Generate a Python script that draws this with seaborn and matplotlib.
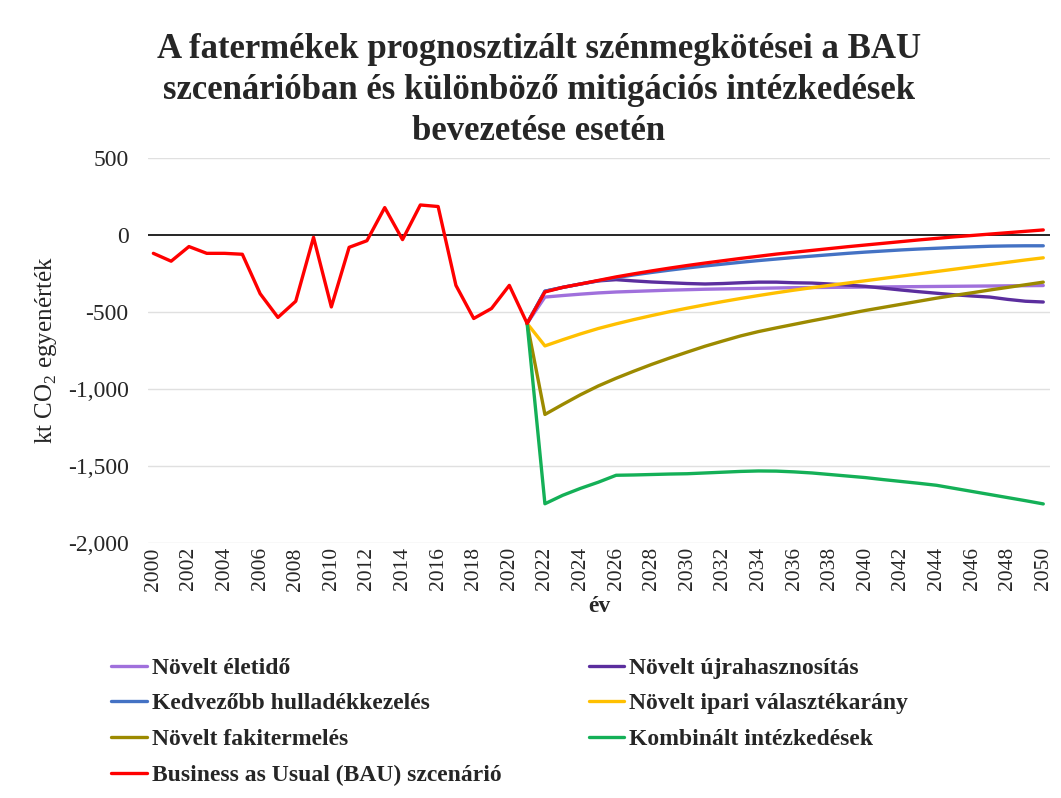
import pandas as pd
import matplotlib
matplotlib.use("Agg")
import matplotlib.pyplot as plt
from matplotlib.ticker import FuncFormatter
import seaborn as sns

# BAU history 2000-2021, then the projections 2021-2050
hist_years = list(range(2000, 2022))
bau_hist = [-119, -170, -75, -119, -119, -125, -381, -535, -430, -15, -467,
            -80, -37, 178, -30, 195, 185, -327, -542, -477, -327, -574]

proj_years = list(range(2021, 2051))
eletido = [-574, -403, -393, -384, -376, -370, -366, -362, -358, -355, -352,
           -350, -348, -346, -344, -342, -341, -340, -339, -338, -337, -336,
           -335, -334, -333, -332, -331, -330, -329, -328]
ujrahasznositas = [-574, -365, -340, -318, -298, -290, -298, -305, -310, -315,
                   -318, -315, -310, -306, -306, -310, -312, -318, -325, -333,
                   -345, -357, -368, -378, -388, -396, -403, -418, -430, -435]
hulladek = [-574, -365, -340, -318, -297, -277, -259, -243, -228, -214, -201,
            -189, -177, -166, -156, -146, -137, -128, -119, -111, -104, -97,
            -91, -86, -81, -77, -73, -71, -70, -70]
ipari = [-574, -720, -680, -642, -607, -577, -549, -523, -498, -475, -453,
         -432, -412, -393, -375, -358, -342, -327, -312, -297, -282, -267,
         -252, -237, -222, -207, -192, -177, -162, -148]
fakitermeles = [-574, -1165, -1100, -1037, -980, -930, -884, -840, -799, -760,
                -722, -688, -655, -627, -603, -580, -557, -535, -512, -490,
                -470, -450, -430, -410, -392, -375, -357, -340, -323, -306]
kombinalt = [-574, -1745, -1690, -1645, -1605, -1560, -1558, -1555, -1552,
             -1550, -1545, -1540, -1535, -1532, -1533, -1538, -1545, -1555,
             -1565, -1575, -1588, -1600, -1612, -1625, -1645, -1665, -1685,
             -1705, -1725, -1746]
bau_proj = [-370, -340, -318, -295, -272, -252, -233, -215, -198, -182, -167,
            -152, -138, -124, -112, -100, -88, -76, -65, -54, -43, -32, -22,
            -12, -3, 6, 15, 24, 33]

names = ["Növelt életidő", "Növelt újrahasznosítás", "Kedvezőbb hulladékkezelés",
         "Növelt ipari választékarány", "Növelt fakitermelés",
         "Kombinált intézkedések", "Business as Usual (BAU) szcenárió"]
colors = ["#A070DC", "#5B2E9E", "#4472C4", "#FFC000", "#9C8A00", "#14B057", "#FF0000"]

rows = []
for name, vals in zip(names[:6], [eletido, ujrahasznositas, hulladek, ipari,
                                  fakitermeles, kombinalt]):
    for y, v in zip(proj_years, vals):
        rows.append((y, v, name))
for y, v in zip(hist_years + proj_years[1:], bau_hist + bau_proj):
    rows.append((y, v, names[6]))
df = pd.DataFrame(rows, columns=["ev", "ertek", "sorozat"])

sns.set_style("white")
plt.rcParams["font.family"] = ["Liberation Serif", "DejaVu Serif"]
plt.rcParams["mathtext.fontset"] = "custom"
plt.rcParams["mathtext.rm"] = "Liberation Serif"

fig = plt.figure(figsize=(10.61, 7.98), dpi=100)
ax = fig.add_axes([0.1395, 0.3195, 0.8505, 0.4825])

for v in range(-2000, 501, 500):
    if v != 0:
        ax.axhline(v, color="#e0e0e0", lw=1, zorder=0)
ax.axhline(0, color="black", lw=1.2, zorder=1)

sns.lineplot(data=df, x="ev", y="ertek", hue="sorozat", hue_order=names,
             palette=dict(zip(names, colors)), linewidth=2.4, ax=ax, legend=True)

ax.set_xlim(1999.7, 2050.4)
ax.set_ylim(-2000, 500)
ax.set_xticks(range(2000, 2051, 2))
ax.set_yticks(range(-2000, 501, 500))
ax.yaxis.set_major_formatter(FuncFormatter(lambda v, p: f"{v:,.0f}"))
ax.tick_params(axis="x", labelrotation=90, labelsize=15.5, pad=3, length=0)
ax.tick_params(axis="y", labelsize=17, pad=14, length=0)
for s in ax.spines.values():
    s.set_visible(False)

ax.set_xlabel("év", fontsize=17, fontweight="bold", labelpad=4)
ax.set_ylabel(r"kt CO$_2$ egyenérték", fontsize=18, labelpad=6)

fig.suptitle("A fatermékek prognosztizált szénmegkötései a BAU\n"
             "szcenárióban és különböző mitigációs intézkedések\n"
             "bevezetése esetén", x=0.508, y=0.959, fontsize=25,
             fontweight="bold", linespacing=1.33)

handles, labels = ax.get_legend_handles_labels()
ax.get_legend().remove()
order = [0, 2, 4, 6, 1, 3, 5]
fig.legend([handles[i] for i in order], [labels[i] for i in order],
           loc="upper left", bbox_to_anchor=(0.085, 1 - 636 / 798), ncol=2,
           frameon=False, handlelength=1.5, handletextpad=0.2,
           columnspacing=3.7, labelspacing=0.6,
           prop={"weight": "bold", "size": 17})

fig.savefig("out.png", dpi=100)
